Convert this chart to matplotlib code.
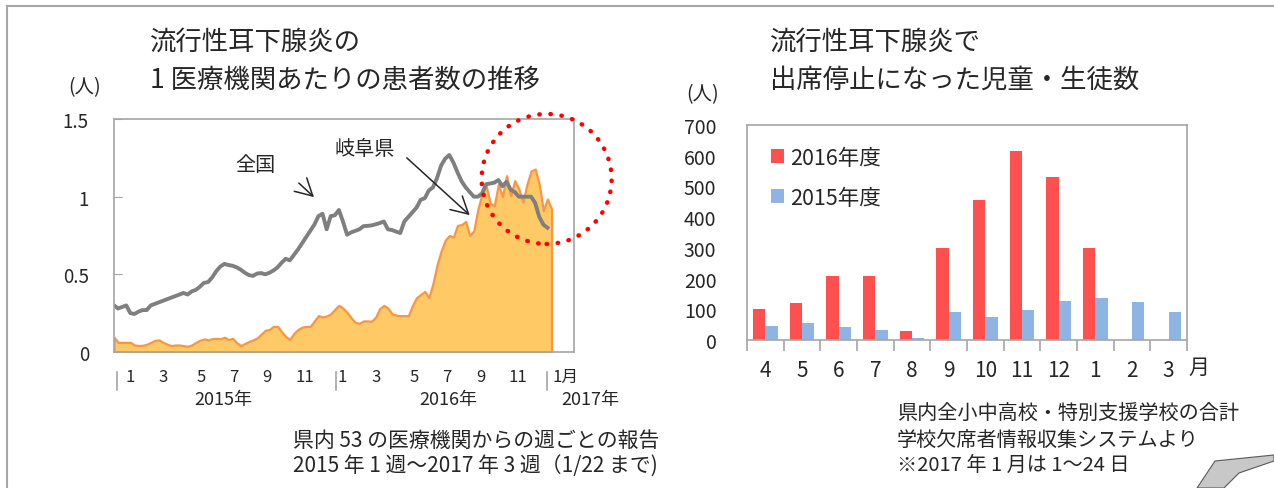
import numpy as np
import matplotlib
matplotlib.use('Agg')
import matplotlib.pyplot as plt
from matplotlib.patches import Ellipse, Polygon
from matplotlib.lines import Line2D
import matplotlib.transforms as mtransforms

plt.rcParams['font.family'] = ['Noto Sans CJK JP', 'DejaVu Sans']

# weekly reports per medical institution, 2015 wk1 .. 2017 wk3
national = [0.30, 0.28, 0.29, 0.30, 0.25, 0.245, 0.26, 0.27, 0.27, 0.30,
            0.31, 0.32, 0.33, 0.34, 0.35, 0.36, 0.37, 0.38, 0.37, 0.39,
            0.40, 0.42, 0.445, 0.45, 0.48, 0.52, 0.55, 0.567, 0.56, 0.555,
            0.545, 0.53, 0.51, 0.495, 0.49, 0.505, 0.508, 0.50, 0.51, 0.525,
            0.545, 0.575, 0.60, 0.59, 0.625, 0.66, 0.70, 0.74, 0.78, 0.82,
            0.875, 0.89, 0.79, 0.875, 0.88, 0.914, 0.84, 0.755, 0.77, 0.78,
            0.79, 0.81, 0.812, 0.815, 0.822, 0.83, 0.84, 0.79, 0.785, 0.775,
            0.766, 0.84, 0.87, 0.90, 0.93, 0.98, 0.99, 1.04, 1.06, 1.12,
            1.20, 1.245, 1.268, 1.22, 1.157, 1.10, 1.06, 1.03, 1.00, 1.00,
            1.02, 1.08, 1.085, 1.09, 1.107, 1.067, 1.096, 1.045, 1.03, 1.00,
            1.00, 1.00, 1.00, 0.96, 0.87, 0.82, 0.80]
gifu = [0.095, 0.062, 0.062, 0.062, 0.062, 0.045, 0.042, 0.043, 0.05, 0.062,
        0.075, 0.078, 0.062, 0.05, 0.041, 0.045, 0.045, 0.041, 0.037, 0.045,
        0.062, 0.075, 0.084, 0.078, 0.086, 0.088, 0.085, 0.095, 0.08, 0.088,
        0.06, 0.041, 0.055, 0.068, 0.078, 0.09, 0.115, 0.14, 0.145, 0.165,
        0.165, 0.13, 0.10, 0.08, 0.12, 0.145, 0.16, 0.165, 0.165, 0.20,
        0.235, 0.225, 0.232, 0.245, 0.275, 0.30, 0.282, 0.255, 0.22, 0.19,
        0.185, 0.20, 0.20, 0.198, 0.225, 0.28, 0.30, 0.282, 0.245, 0.238,
        0.234, 0.234, 0.234, 0.30, 0.35, 0.37, 0.39, 0.35, 0.44, 0.56,
        0.65, 0.72, 0.75, 0.74, 0.815, 0.82, 0.84, 0.75, 0.78, 0.92,
        1.02, 1.07, 0.96, 0.94, 1.08, 1.00, 1.135, 1.006, 1.103, 1.05,
        0.964, 1.08, 1.165, 1.178, 1.08, 0.91, 0.985, 0.92]

month_labels = ['1', '3', '5', '7', '9', '11', '1', '3', '5', '7', '9', '11', '1月']
month_pos = [3.9, 12, 21.3, 29.3, 37.4, 46.7, 55.7, 64, 73.3, 81.4, 89.7, 98.8, 110.5]
year_labels = ['2015年', '2016年', '2017年']
year_pos = [26.8, 81.7, 116.4]
year_breaks = [0.7, 54.3, 105.9]

# pupils suspended from school, by month of school year
months = ['4', '5', '6', '7', '8', '9', '10', '11', '12', '1', '2', '3']
fy2016 = [101, 120, 208, 208, 29, 301, 456, 615, 531, 298, 0, 0]
fy2015 = [47, 54, 42, 33, 5, 92, 75, 99, 127, 137, 123, 92]

W, H = 1274, 489
fig = plt.figure(figsize=(W / 100, H / 100), dpi=100)

def fx(px):
    return px / W

def fy(py):
    return 1 - py / H

frame_col = '#a6a6a6'
txt_col = '#262626'

# ---- left chart: line + area
ax = fig.add_axes([fx(114), fy(353), fx(574) - fx(114), fy(120) - fy(353)])
wk_g = np.arange(len(gifu))
wk_n = np.arange(len(national))
ax.fill_between(wk_g, 0, gifu, facecolor='#ffc966', edgecolor='#f79646', linewidth=1.6)
ax.plot(wk_n, national, color='#7f7f7f', linewidth=2.8)
ax.set_xlim(0, 112.5)
ax.set_ylim(0, 1.5)
ax.set_yticks([0, 0.5, 1, 1.5])
ax.set_yticklabels(['0', '0.5', '1', '1.5'], fontsize=13.5, color=txt_col)
ax.tick_params(axis='y', direction='in', length=6, color=frame_col, pad=18)
ax.set_xticks([])
for s in ax.spines.values():
    s.set_color(frame_col)
    s.set_linewidth(1.2)

tr = mtransforms.blended_transform_factory(ax.transData, ax.transAxes)
for lab, p in zip(month_labels, month_pos):
    ax.text(p, -0.105, lab, transform=tr, ha='center', va='center',
            fontsize=12, color=txt_col)
for lab, p in zip(year_labels, year_pos):
    ax.text(p, -0.2, lab, transform=tr, ha='center', va='center',
            fontsize=13, color=txt_col)
for p in year_breaks:
    ax.plot([p, p], [-0.085, -0.165], transform=tr, color=frame_col,
            linewidth=1.2, clip_on=False)

arrow = dict(arrowstyle='->,head_length=0.55,head_width=0.3', color='#262626', lw=1.1,
             mutation_scale=22)
ax.annotate('', xy=(49.4, 0.985), xytext=(44.7, 1.10), arrowprops=arrow)
ax.text(34.5, 1.21, '全国', ha='center', va='center', fontsize=14.5, color=txt_col)
ax.annotate('', xy=(87.5, 0.869), xytext=(71.1, 1.262), arrowprops=arrow)
ax.text(61.4, 1.307, '岐阜県', ha='center', va='center', fontsize=14.5, color=txt_col)

ax.add_patch(Ellipse((105.8, 1.114), 31.8, 0.837, fill=False, edgecolor='#ff0000',
                     linewidth=3.2, linestyle=(0, (0.1, 2.4)), capstyle='round',
                     clip_on=False, zorder=5))

# ---- right chart: bars
bx = fig.add_axes([fx(747), fy(341), fx(1187) - fx(747), fy(126) - fy(341)])
cat = np.arange(len(months))
bw = 0.34
bx.bar(cat - bw / 2, fy2016, width=bw, color='#ff5050', label='2016年度')
bx.bar(cat + bw / 2, fy2015, width=bw, color='#8db4e2', label='2015年度')
bx.set_xlim(-0.5, len(months) - 0.5)
bx.set_ylim(0, 700)
bx.set_yticks(range(0, 701, 100))
bx.set_yticklabels([str(v) for v in range(0, 701, 100)], fontsize=14, color=txt_col)
bx.tick_params(axis='y', length=0, pad=22)
bx.set_xticks(cat)
bx.set_xticklabels(months, fontsize=15, color=txt_col)
bx.tick_params(axis='x', which='major', length=0, pad=14)
bx.set_xticks(np.arange(-0.5, len(months)), minor=True)
bx.tick_params(axis='x', which='minor', length=8, color=frame_col, width=1.2)
for s in bx.spines.values():
    s.set_color(frame_col)
    s.set_linewidth(1.2)
bx.text(11.83, -0.125, '月', transform=mtransforms.blended_transform_factory(bx.transData, bx.transAxes),
        ha='center', va='center', fontsize=15, color=txt_col)
bx.legend(loc='upper left', bbox_to_anchor=(0.01, 0.99), frameon=False, fontsize=15.5,
          handlelength=0.6, handleheight=0.6, handletextpad=0.3, labelspacing=0.85,
          labelcolor=txt_col)

# ---- titles and notes
fig.text(fx(150), fy(42), '流行性耳下腺炎の', fontsize=19, color=txt_col, va='center')
fig.text(fx(150), fy(80), '1 医療機関あたりの患者数の推移', fontsize=19, color=txt_col, va='center')
fig.text(fx(770), fy(42), '流行性耳下腺炎で', fontsize=19, color=txt_col, va='center')
fig.text(fx(770), fy(80), '出席停止になった児童・生徒数', fontsize=19, color=txt_col, va='center')
fig.text(fx(85), fy(88), '(人)', fontsize=14, color=txt_col, ha='center', va='center')
fig.text(fx(703), fy(95), '(人)', fontsize=14, color=txt_col, ha='center', va='center')

fig.text(fx(293), fy(441), '県内 53 の医療機関からの週ごとの報告', fontsize=15, color=txt_col, va='center')
fig.text(fx(293), fy(467), '2015 年 1 週～2017 年 3 週（1/22 まで)', fontsize=15, color=txt_col, va='center')
fig.text(fx(897), fy(413), '県内全小中高校・特別支援学校の合計', fontsize=14.5, color=txt_col, va='center')
fig.text(fx(897), fy(440), '学校欠席者情報収集システムより', fontsize=14.5, color=txt_col, va='center')
fig.text(fx(897), fy(466), '※2017 年 1 月は 1～24 日', fontsize=14.5, color=txt_col, va='center')

# page frame and curled corner
fig.add_artist(Line2D([fx(7), fx(1274)], [fy(7), fy(7)], color=frame_col, linewidth=1.5))
fig.add_artist(Line2D([fx(7), fx(7)], [fy(7), fy(489)], color=frame_col, linewidth=1.5))
curl = [(1197, 489), (1215, 462), (1274, 456), (1274, 462), (1239, 474), (1224, 489)]
fig.add_artist(Polygon([(fx(a), fy(b)) for a, b in curl], closed=True,
                       facecolor='#c8c8c8', edgecolor='#595959', linewidth=0.8))

fig.savefig('out.png', dpi=100)
